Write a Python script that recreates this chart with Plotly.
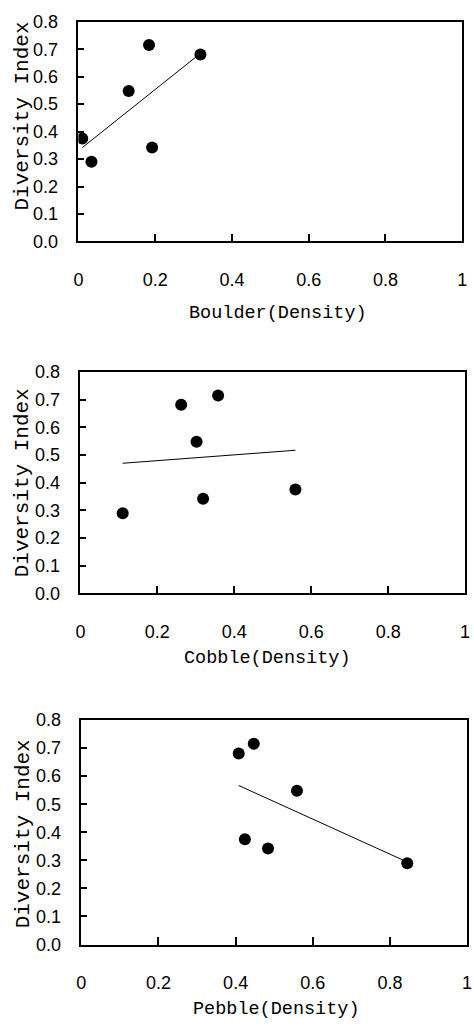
import numpy as np
import plotly.graph_objects as go

# Sediment composition (proportional density) at six sites and their diversity index
sites = ["A", "B", "C", "D", "E", "F"]
boulder = [0.010, 0.034, 0.131, 0.184, 0.192, 0.318]
cobble = [0.559, 0.110, 0.302, 0.358, 0.319, 0.262]
pebble = [0.424, 0.845, 0.559, 0.447, 0.484, 0.408]
diversity = [0.375, 0.290, 0.548, 0.715, 0.342, 0.681]

x_titles = ["Boulder(Density)", "Cobble(Density)", "Pebble(Density)"]
y_title = "Diversity Index"
x_tickvals = [0, 0.2, 0.4, 0.6, 0.8, 1.0]
x_ticktext = ["0", "0.2", "0.4", "0.6", "0.8", "1"]
y_tickvals = [0.0, 0.1, 0.2, 0.3, 0.4, 0.5, 0.6, 0.7, 0.8]
y_ticktext = ["0.0", "0.1", "0.2", "0.3", "0.4", "0.5", "0.6", "0.7", "0.8"]

W, H = 474, 1033

# panel boxes in pixels: (left, right, top, bottom)
boxes = [(75, 467, 12, 236), (77, 470, 369, 595), (78, 472, 724, 953)]
# axis-title centres in pixels
xtitle_pos = [(279, 310), (268, 661), (277, 1019)]
ytitle_pos = [(18, 108), (18, 482), (19, 840)]


def px_x(v):
    return v / W


def px_y(v):
    return 1 - v / H


TICK_FONT = dict(family="Liberation Sans, Arial, sans-serif", size=18, color="black")
XTITLE_FONT = dict(family="Liberation Mono, DejaVu Sans Mono, monospace", size=18.5, color="black")
YTITLE_FONT = dict(family="Liberation Mono, DejaVu Sans Mono, monospace", size=21, color="black")

fig = go.Figure()
series = [boulder, cobble, pebble]

for i, xs in enumerate(series):
    n = "" if i == 0 else str(i + 1)
    xa, ya = "x" + n, "y" + n
    xs_arr = np.array(xs)
    ys_arr = np.array(diversity)

    # least-squares regression line over the observed range
    slope, intercept = np.polyfit(xs_arr, ys_arr, 1)
    lx = np.array([xs_arr.min(), xs_arr.max()])
    fig.add_trace(go.Scatter(x=lx, y=slope * lx + intercept, mode="lines",
                             line=dict(color="black", width=1),
                             xaxis=xa, yaxis=ya, showlegend=False, hoverinfo="skip"))
    fig.add_trace(go.Scatter(x=xs, y=diversity, mode="markers", text=sites,
                             marker=dict(color="black", size=12, symbol="circle"),
                             xaxis=xa, yaxis=ya, showlegend=False))

    left, right, top, bottom = boxes[i]
    common = dict(showgrid=False, zeroline=False, showline=True, mirror=True,
                  linecolor="black", linewidth=1.5, ticks="inside", tickcolor="black",
                  tickwidth=1.5, tickfont=TICK_FONT)
    fig.layout["xaxis" + n] = dict(
        domain=[px_x(left), px_x(right)], range=[0, 1], anchor=ya,
        tickvals=x_tickvals, ticktext=x_ticktext, ticklen=8,
        ticklabelstandoff=21, **common)
    fig.layout["yaxis" + n] = dict(
        domain=[px_y(bottom), px_y(top)], range=[0, 0.8], anchor=xa,
        tickvals=y_tickvals, ticktext=y_ticktext, ticklen=6,
        ticklabelstandoff=15, **common)

    tx, ty = xtitle_pos[i]
    fig.add_annotation(text=x_titles[i], x=px_x(tx), y=px_y(ty), xref="paper", yref="paper",
                       showarrow=False, font=XTITLE_FONT, xanchor="center", yanchor="middle")
    yx, yy = ytitle_pos[i]
    fig.add_annotation(text=y_title, x=px_x(yx), y=px_y(yy), xref="paper", yref="paper",
                       showarrow=False, font=YTITLE_FONT, textangle=-90,
                       xanchor="center", yanchor="middle")

fig.update_layout(width=W, height=H, margin=dict(l=0, r=0, t=0, b=0),
                  paper_bgcolor="white", plot_bgcolor="white")

fig.write_html("out.html")
